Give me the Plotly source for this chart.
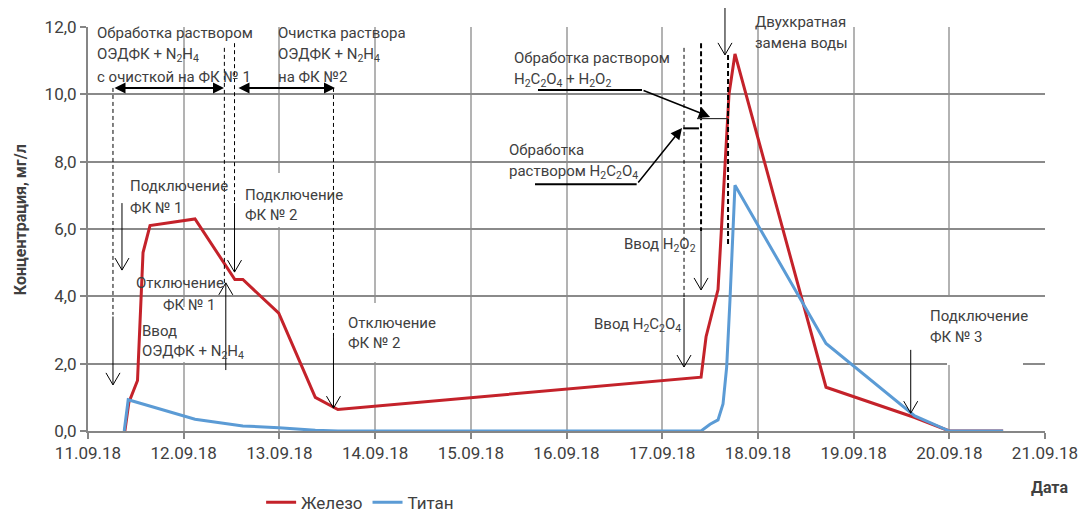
import plotly.graph_objects as go
from datetime import datetime, timedelta

# ---------------- data ----------------
iron_dates = [
    "2018-09-11 09:15", "2018-09-11 10:15", "2018-09-11 12:25", "2018-09-11 13:48",
    "2018-09-11 15:33", "2018-09-12 02:50", "2018-09-12 12:50", "2018-09-12 14:50",
    "2018-09-12 23:50", "2018-09-13 09:00", "2018-09-13 14:40", "2018-09-17 09:45",
    "2018-09-17 11:00", "2018-09-17 14:00", "2018-09-17 16:45", "2018-09-17 18:15",
    "2018-09-18 17:05", "2018-09-19 15:20", "2018-09-20 00:00", "2018-09-20 13:30",
]
iron_values = [0.0, 0.85, 1.5, 5.3, 6.1, 6.3, 4.5, 4.5, 3.5, 1.0, 0.64, 1.6,
               2.8, 4.2, 10.0, 11.2, 1.3, 0.4, 0.0, 0.0]

titan_dates = [
    "2018-09-11 09:05", "2018-09-11 10:05", "2018-09-12 02:50", "2018-09-12 12:50",
    "2018-09-12 14:50", "2018-09-12 23:50", "2018-09-13 09:00", "2018-09-13 14:40",
    "2018-09-17 09:45", "2018-09-17 12:00", "2018-09-17 14:00", "2018-09-17 15:15",
    "2018-09-17 16:10", "2018-09-17 17:00", "2018-09-17 18:15", "2018-09-18 17:05",
    "2018-09-19 15:20", "2018-09-20 00:00", "2018-09-20 13:30",
]
titan_values = [0.0, 0.93, 0.35, 0.2, 0.15, 0.1, 0.02, 0.0, 0.0, 0.2, 0.33, 0.8,
                1.9, 3.9, 7.3, 2.6, 0.45, 0.0, 0.0]

series_names = ["Железо", "Титан"]
series_colors = ["#C4222A", "#5B9BD5"]
x_tick_labels = ["11.09.18", "12.09.18", "13.09.18", "14.09.18", "15.09.18", "16.09.18",
                 "17.09.18", "18.09.18", "19.09.18", "20.09.18", "21.09.18"]
y_title = "Концентрация, мг/л"
x_title = "Дата"

# ---------------- helpers ----------------
BASE = datetime(2018, 9, 11)
def D(days):
    return BASE + timedelta(days=days)

FONT = "Roboto, 'Open Sans', sans-serif"
TXT = "#404040"
shapes = []
annotations = []

def label(d, v, text, anchor="left", yref="y", size=15):
    annotations.append(dict(x=D(d), y=v, xref="x", yref=yref, text=text, showarrow=False,
                            xanchor=anchor, yanchor="middle",
                            font=dict(family=FONT, size=size, color=TXT)))

def dashed(d, v0, v1, width=1, dash="4px,3px", yref="y"):
    shapes.append(dict(type="line", xref="x", yref=yref, x0=D(d), x1=D(d), y0=v0, y1=v1,
                       line=dict(color="black", width=width, dash=dash), layer="above"))

def varrow(d, v_from, v_to, yref="y"):
    shapes.append(dict(type="line", xref="x", yref=yref, x0=D(d), x1=D(d), y0=v_from, y1=v_to,
                       line=dict(color="black", width=1), layer="above"))
    down = v_to < v_from
    path = "M-7,12 L0,0 L7,12" if down else "M-7,-12 L0,0 L7,-12"
    shapes.append(dict(type="path", xref="x", yref=yref, xsizemode="pixel", ysizemode="pixel",
                       xanchor=D(d), yanchor=v_to, path=path,
                       line=dict(color="black", width=1), layer="above"))

def hline(d0, d1, v, width=2, color="black", yref="y"):
    shapes.append(dict(type="line", xref="x", yref=yref, x0=D(d0), x1=D(d1), y0=v, y1=v,
                       line=dict(color=color, width=width), layer="above"))

def whitebox(d0, d1, v0, v1, yref="y"):
    shapes.append(dict(type="rect", xref="x", yref=yref, x0=D(d0), x1=D(d1), y0=v0, y1=v1,
                       fillcolor="white", line=dict(width=0), layer="between"))

def double_arrow(d0, d1, v):
    annotations.append(dict(x=D(d1), y=v, ax=D(d0), ay=v, xref="x", yref="y", axref="x", ayref="y",
                            text="", showarrow=True, arrowside="end+start", arrowhead=2,
                            startarrowhead=2, arrowsize=1.1, startarrowsize=1.1,
                            arrowwidth=2, arrowcolor="black", standoff=0, startstandoff=0))

def pointer(d, v, ax, ay):
    annotations.append(dict(x=D(d), y=v, ax=ax, ay=ay, xref="x", yref="y",
                            text="", showarrow=True, arrowhead=2, arrowsize=1.5,
                            arrowwidth=1.5, arrowcolor="black", standoff=0))

# ---------------- white text boxes (hide gridlines) ----------------
whitebox(1.567, 2.738, 6.06, 7.66)
whitebox(2.612, 3.678, 2.05, 3.80)
whitebox(0.522, 1.693, 2.05, 3.68)
whitebox(8.976, 9.770, 1.96, 3.98)
whitebox(6.782, 7.942, 0.911, 1.08, yref="paper")

# ---------------- annotations ----------------
# top-left blocks
label(0.073, 11.82, "Обработка раствором")
label(0.073, 11.17, "ОЭДФК + N<sub>2</sub>H<sub>4</sub>")
label(0.073, 10.51, "с очисткой на ФК № 1")
label(1.964, 11.82, "Очистка раствора")
label(1.964, 11.17, "ОЭДФК + N<sub>2</sub>H<sub>4</sub>")
label(1.964, 10.51, "на ФК №2")
double_arrow(0.261, 1.421, 10.19)
double_arrow(1.557, 2.581, 10.19)

# Ввод ОЭДФК
dashed(0.261, 10.19, 3.45)
varrow(0.261, 3.40, 1.37)
label(0.543, 2.97, "Ввод")
label(0.543, 2.35, "ОЭДФК + N<sub>2</sub>H<sub>4</sub>")

# Подключение ФК № 1
varrow(0.355, 6.77, 4.78)
label(0.418, 7.28, "Подключение")
label(0.418, 6.62, "ФК № 1")

# Отключение ФК № 1
dashed(1.425, 11.38, 4.40)
varrow(1.44, 1.81, 4.40)
label(0.964, 4.40, "Отключение", anchor="center")
label(1.063, 3.75, "ФК № 1", anchor="center")

# Подключение ФК № 2
dashed(1.531, 11.52, 6.77)
varrow(1.531, 6.77, 4.72)
label(1.623, 7.01, "Подключение")
label(1.623, 6.42, "ФК № 2")

# Отключение ФК № 2
dashed(2.565, 10.19, 2.79)
varrow(2.565, 2.79, 0.68)
label(2.693, 3.20, "Отключение")
label(2.693, 2.60, "ФК № 2")

# Ввод H2C2O4
dashed(6.228, 11.38, 3.95)
varrow(6.228, 3.95, 1.90)
label(5.270, 3.15, "Ввод H<sub>2</sub>C<sub>2</sub>O<sub>4</sub>")

# Ввод H2O2
dashed(6.406, 11.52, 5.94, width=2, dash="5px,3px")
varrow(6.406, 5.94, 4.19)
label(5.583, 5.52, "Ввод H<sub>2</sub>O<sub>2</sub>")

# Двухкратная замена воды
dashed(6.688, 11.17, 5.52, width=2, dash="5px,3px")
varrow(6.656, 1.047, 0.931, yref="paper")
label(6.946, 1.012, "Двухкратная", yref="paper")
label(6.946, 0.960, "замена воды", yref="paper")

# Обработка раствором H2C2O4 + H2O2
label(4.434, 11.08, "Обработка раствором")
label(4.434, 10.42, "H<sub>2</sub>C<sub>2</sub>O<sub>4</sub> + H<sub>2</sub>O<sub>2</sub>")
hline(4.702, 5.789, 10.13)
pointer(6.50, 9.33, -68, -27)
hline(6.364, 6.688, 9.28, width=1.2, color="#303030")

# Обработка раствором H2C2O4
label(4.375, 8.35, "Обработка")
label(4.375, 7.70, "раствором H<sub>2</sub>C<sub>2</sub>O<sub>4</sub>")
hline(4.671, 5.733, 7.33)
pointer(6.207, 9.0, -45, 56)
hline(6.220, 6.384, 8.99)

# Подключение ФК № 3
varrow(8.597, 2.41, 0.53)
label(8.774, 3.42, "Подключение")
label(8.774, 2.80, "ФК № 3")

# axis titles
annotations.append(dict(x=-0.071, y=0.522, xref="paper", yref="paper", text=f"<b>{y_title}</b>",
                        textangle=-90, showarrow=False, xanchor="center", yanchor="middle",
                        font=dict(family=FONT, size=16, color=TXT)))
annotations.append(dict(x=1.005, y=-0.139, xref="paper", yref="paper", text=f"<b>{x_title}</b>",
                        showarrow=False, xanchor="center", yanchor="middle",
                        font=dict(family=FONT, size=16, color=TXT)))

# ---------------- figure ----------------
fig = go.Figure()
fig.add_trace(go.Scatter(x=iron_dates, y=iron_values, mode="lines", name=series_names[0],
                         line=dict(color=series_colors[0], width=3)))
fig.add_trace(go.Scatter(x=titan_dates, y=titan_values, mode="lines", name=series_names[1],
                         line=dict(color=series_colors[1], width=3)))

tick_vals = [D(i) for i in range(len(x_tick_labels))]

fig.update_layout(
    width=1088, height=515,
    margin=dict(l=88, r=43, t=27, b=84, autoexpand=False),
    paper_bgcolor="white", plot_bgcolor="white",
    separators=", ",
    font=dict(family=FONT, color=TXT),
    shapes=shapes, annotations=annotations,
    legend=dict(orientation="h", xref="container", yref="container",
                x=0.240, y=0.024, xanchor="left", yanchor="middle",
                font=dict(family=FONT, size=17, color=TXT), bgcolor="rgba(0,0,0,0)",
                itemwidth=30),
    xaxis=dict(range=[D(0), D(10)], tickvals=tick_vals, ticktext=x_tick_labels,
               showgrid=True, gridcolor="#B3B3B3", gridwidth=1.5,
               showline=True, linecolor="#868686", linewidth=2,
               ticks="outside", ticklen=6, tickcolor="#868686", tickwidth=2,
               tickfont=dict(family=FONT, size=17, color=TXT), zeroline=False,
               automargin=False),
    yaxis=dict(range=[0, 12], dtick=2, tick0=0, tickformat=".1f",
               showgrid=True, gridcolor="#8A8A8A", gridwidth=2,
               showline=True, linecolor="#868686", linewidth=2,
               ticks="outside", ticklen=6, tickcolor="#868686", tickwidth=2,
               tickfont=dict(family=FONT, size=17, color=TXT), zeroline=False,
               automargin=False),
)

fig.write_html("out.html")
